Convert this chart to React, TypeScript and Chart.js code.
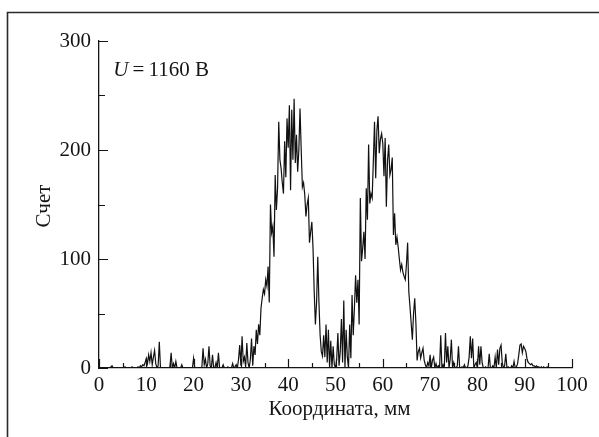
import React, { useEffect, useRef } from "react";
import { Chart, registerables } from "chart.js";

Chart.register(...registerables);

// Sampling of the counts along the coordinate axis (mm)
const xStart = 0;
const xStep = 0.25;

// Counts, 0 – 9.75 mm
const counts00 = [
  0, 0, 0, 0, 0, 0, 0, 0, 0, 0, 1, 2, 0, 0, 0, 0, 0, 0, 0, 0,
  0, 0, 1, 0, 0, 0, 0, 0, 1, 0, 0, 0, 0, 1, 0, 2, 1, 3, 2, 5,
];
// 10 – 19.75 mm
const counts10 = [
  9, 4, 12, 6, 14, 3, 10, 16, 4, 0, 2, 24, 0, 0, 0, 0, 0, 0, 0, 0,
  1, 14, 0, 4, 0, 6, 0, 0, 0, 0, 3, 0, 0, 0, 0, 0, 0, 0, 0, 0,
];
// 20 – 29.75 mm
const counts20 = [
  9, 0, 0, 0, 0, 0, 0, 1, 18, 3, 8, 0, 4, 20, 2, 0, 12, 0, 0, 5,
  0, 14, 0, 0, 0, 3, 0, 0, 0, 1, 0, 0, 0, 4, 0, 1, 3, 0, 8, 21,
];
// 30 – 39.75 mm
const counts30 = [
  2, 29, 6, 10, 1, 23, 5, 0, 8, 27, 2, 20, 12, 35, 22, 40, 30, 55, 64, 72,
  68, 81, 75, 93, 60, 150, 124, 130, 102, 177, 145, 165, 226, 191, 183, 170, 160, 208, 175, 229,
];
// 40 – 49.75 mm
const counts40 = [
  202, 241, 163, 237, 191, 247, 188, 214, 180, 200, 238, 200, 166, 170, 159, 139, 150, 156, 115, 125,
  134, 110, 70, 40, 60, 102, 60, 30, 15, 11, 30, 10, 40, 5, 35, 0, 25, 0, 20, 3,
];
// 50 – 59.75 mm
const counts50 = [
  0, 8, 32, 2, 15, 45, 5, 62, 0, 35, 10, 0, 40, 9, 67, 30, 55, 85, 60, 81,
  40, 156, 98, 110, 125, 100, 165, 136, 205, 151, 160, 156, 190, 226, 174, 218, 231, 197, 210, 215,
];
// 60 – 69.75 mm
const counts60 = [
  206, 176, 211, 148, 190, 205, 177, 182, 193, 122, 142, 113, 120, 111, 100, 90, 95, 88, 84, 81,
  95, 115, 70, 56, 41, 26, 50, 64, 41, 7, 15, 18, 9, 14, 18, 7, 3, 0, 5, 2,
];
// 70 – 79.75 mm
const counts70 = [
  12, 0, 7, 10, 0, 4, 0, 2, 0, 30, 0, 3, 0, 32, 5, 20, 0, 8, 26, 0,
  5, 0, 0, 2, 20, 0, 0, 1, 0, 3, 0, 0, 2, 10, 29, 9, 27, 0, 3, 5,
];
// 80 – 89.75 mm
const counts80 = [
  0, 20, 3, 20, 5, 0, 0, 1, 0, 0, 13, 0, 0, 2, 0, 10, 0, 17, 3, 18,
  21, 5, 0, 2, 13, 0, 1, 0, 0, 2, 0, 6, 0, 1, 4, 12, 21, 22, 14, 20,
];
// 90 – 100 mm
const counts90 = [
  18, 15, 8, 5, 4, 3, 4, 2, 2, 1, 2, 1, 1, 0, 1, 0, 1, 0, 0, 1,
  0, 0, 0, 0, 0, 0, 0, 0, 0, 0, 0, 0, 0, 0, 0, 0, 0, 0, 0, 0, 0,
];

const counts = [
  ...counts00, ...counts10, ...counts20, ...counts30, ...counts40,
  ...counts50, ...counts60, ...counts70, ...counts80, ...counts90,
];

const xMajorTicks = [0, 10, 20, 30, 40, 50, 60, 70, 80, 90, 100];
const xMinorTicks = [5, 15, 25, 35, 45, 55, 65, 75, 85, 95];
const yMajorTicks = [0, 100, 200, 300];
const yMinorTicks = [50, 150, 250];

const xTitle = "Координата, мм";
const yTitle = "Счет";
const noteVar = "U";
const noteRest = "\u2009=\u20091160 В";

const FONT = '"Liberation Serif", "Times New Roman", serif';
const INK = "#151515";

const decorPlugin = {
  id: "decor",
  afterDraw(chart: any) {
    const { ctx, chartArea: a, scales } = chart;
    const x = scales.x;
    const y = scales.y;
    ctx.save();
    ctx.strokeStyle = INK;
    ctx.lineWidth = 1.2;
    ctx.beginPath();
    for (const v of xMajorTicks) {
      const px = Math.round(x.getPixelForValue(v)) + 0.5;
      ctx.moveTo(px, a.bottom);
      ctx.lineTo(px, a.bottom - 9);
    }
    for (const v of xMinorTicks) {
      const px = Math.round(x.getPixelForValue(v)) + 0.5;
      ctx.moveTo(px, a.bottom);
      ctx.lineTo(px, a.bottom - 5);
    }
    for (const v of yMajorTicks) {
      const py = Math.round(y.getPixelForValue(v)) + 0.5;
      ctx.moveTo(a.left, py);
      ctx.lineTo(a.left + 9, py);
    }
    for (const v of yMinorTicks) {
      const py = Math.round(y.getPixelForValue(v)) + 0.5;
      ctx.moveTo(a.left, py);
      ctx.lineTo(a.left + 6, py);
    }
    ctx.stroke();

    // outer frame (top and left)
    ctx.strokeStyle = "#2a2a2a";
    ctx.lineWidth = 1.6;
    ctx.beginPath();
    ctx.moveTo(7.5, chart.height);
    ctx.lineTo(7.5, 12.5);
    ctx.lineTo(chart.width, 12.5);
    ctx.stroke();

    // axis titles
    ctx.fillStyle = INK;
    ctx.font = `21px ${FONT}`;
    ctx.textAlign = "center";
    ctx.textBaseline = "middle";
    ctx.fillText(xTitle, (a.left + a.right) / 2 + 4, 409);
    ctx.save();
    ctx.translate(44, 206);
    ctx.rotate(-Math.PI / 2);
    ctx.fillText(yTitle, 0, 0);
    ctx.restore();

    // annotation
    const nx = x.getPixelForValue(3.0);
    const ny = y.getPixelForValue(268);
    ctx.textAlign = "left";
    ctx.textBaseline = "alphabetic";
    ctx.font = `italic 21px ${FONT}`;
    ctx.fillText(noteVar, nx, ny);
    const w = ctx.measureText(noteVar).width;
    ctx.font = `21px ${FONT}`;
    ctx.fillText(noteRest, nx + w, ny);
    ctx.restore();
  },
};

export default function App() {
  const ref = useRef<HTMLCanvasElement | null>(null);

  useEffect(() => {
    document.body.style.margin = "0";
    const canvas = ref.current;
    if (!canvas) return;
    const points = counts.map((c, i) => ({ x: xStart + i * xStep, y: c }));
    const chart = new Chart(canvas, {
      type: "line",
      data: {
        datasets: [
          {
            data: points,
            borderColor: "#111111",
            borderWidth: 1.2,
            pointRadius: 0,
            tension: 0,
            fill: false,
          },
        ],
      },
      options: {
        animation: false,
        responsive: false,
        events: [],
        layout: { padding: { top: 41, right: 27, left: 0, bottom: 0 } },
        plugins: { legend: { display: false }, tooltip: { enabled: false } },
        scales: {
          x: {
            type: "linear",
            min: 0,
            max: 100,
            afterBuildTicks: (s: any) => {
              s.ticks = xMajorTicks.map((v) => ({ value: v }));
            },
            afterFit: (s: any) => {
              s.height = 69;
            },
            ticks: {
              color: INK,
              font: { family: FONT, size: 21 },
              padding: 5,
              maxRotation: 0,
              autoSkip: false,
            },
            grid: { display: true, drawOnChartArea: false, drawTicks: false },
            border: { display: true, color: INK, width: 1.3 },
          },
          y: {
            type: "linear",
            min: 0,
            max: 300,
            afterBuildTicks: (s: any) => {
              s.ticks = yMajorTicks.map((v) => ({ value: v }));
            },
            afterFit: (s: any) => {
              s.width = 99;
            },
            ticks: {
              color: INK,
              font: { family: FONT, size: 21 },
              padding: 8,
              autoSkip: false,
            },
            grid: { display: true, drawOnChartArea: false, drawTicks: false },
            border: { display: true, color: INK, width: 1.3 },
          },
        },
      },
      plugins: [decorPlugin],
    });
    return () => chart.destroy();
  }, []);

  return (
    <div style={{ width: 599, height: 437, background: "#fff" }}>
      <canvas ref={ref} width={599} height={437} style={{ display: "block" }} />
    </div>
  );
}
